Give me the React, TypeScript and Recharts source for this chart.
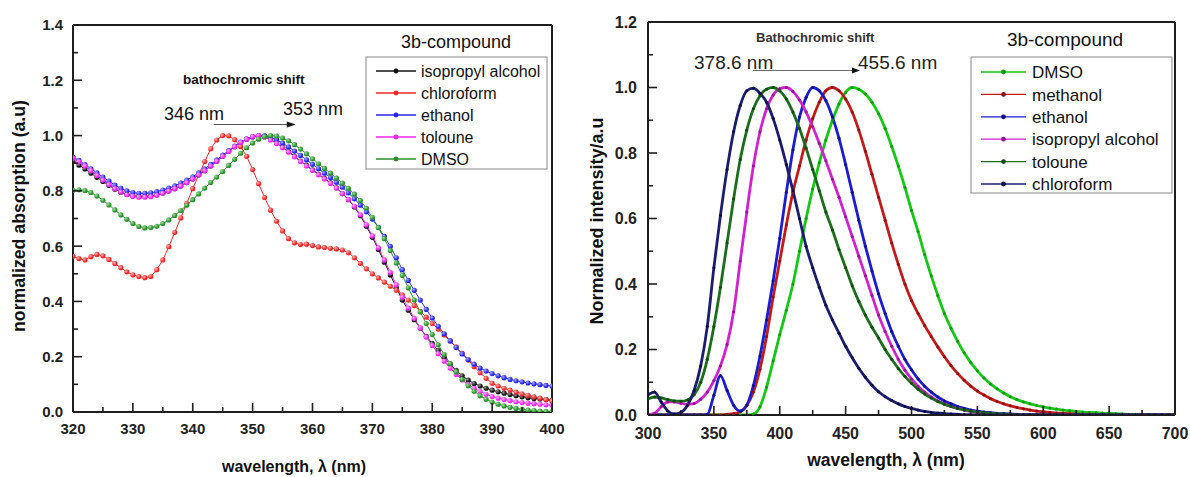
import React from 'react';
import { LineChart, Line, XAxis, YAxis, ReferenceLine } from 'recharts';

const FONT = "'Liberation Sans', Arial, Helvetica, sans-serif";
const AXIS = '#1e1e1e';

// ---------- absorption spectra (left panel), 1 nm steps ----------
const absWavelength = [
  320, 321, 322, 323, 324, 325, 326, 327, 328, 329,
  330, 331, 332, 333, 334, 335, 336, 337, 338, 339,
  340, 341, 342, 343, 344, 345, 346, 347, 348, 349,
  350, 351, 352, 353, 354, 355, 356, 357, 358, 359,
  360, 361, 362, 363, 364, 365, 366, 367, 368, 369,
  370, 371, 372, 373, 374, 375, 376, 377, 378, 379,
  380, 381, 382, 383, 384, 385, 386, 387, 388, 389,
  390, 391, 392, 393, 394, 395, 396, 397, 398, 399,
  400,
];
const absIsopropyl = [
  0.905, 0.893, 0.879, 0.864, 0.849, 0.834, 0.82, 0.806, 0.795, 0.787,
  0.782, 0.78, 0.78, 0.782, 0.786, 0.792, 0.8, 0.808, 0.818, 0.83,
  0.843, 0.858, 0.873, 0.89, 0.907, 0.925, 0.943, 0.96, 0.975, 0.987,
  0.996, 1.0, 0.996, 0.986, 0.973, 0.958, 0.942, 0.925, 0.908, 0.892,
  0.876, 0.86, 0.845, 0.829, 0.811, 0.79, 0.768, 0.742, 0.71, 0.672,
  0.632, 0.588, 0.542, 0.496, 0.45, 0.405, 0.368, 0.334, 0.303, 0.274,
  0.248, 0.222, 0.197, 0.173, 0.151, 0.131, 0.115, 0.103, 0.094, 0.086,
  0.079, 0.073, 0.068, 0.063, 0.059, 0.055, 0.052, 0.049, 0.047, 0.045,
  0.043,
];
const absChloroform = [
  0.563, 0.555, 0.55, 0.562, 0.57, 0.565, 0.552, 0.537, 0.522, 0.507,
  0.496, 0.49, 0.486, 0.49, 0.515, 0.55, 0.598, 0.65, 0.702, 0.755,
  0.808, 0.858, 0.906, 0.952, 0.984, 1.0, 0.999, 0.985, 0.96, 0.925,
  0.877, 0.826, 0.776, 0.73, 0.69, 0.655, 0.627, 0.612, 0.606, 0.607,
  0.602, 0.597, 0.595, 0.592, 0.59, 0.586, 0.576, 0.558, 0.538, 0.518,
  0.5, 0.485, 0.47, 0.455, 0.44, 0.424, 0.405, 0.385, 0.364, 0.343,
  0.32, 0.3, 0.279, 0.257, 0.236, 0.212, 0.188, 0.164, 0.142, 0.122,
  0.104, 0.094, 0.086, 0.079, 0.072, 0.066, 0.06, 0.055, 0.05, 0.045,
  0.04,
];
const absEthanol = [
  0.922, 0.91, 0.895, 0.88, 0.865, 0.85, 0.835, 0.821, 0.809, 0.8,
  0.794, 0.791, 0.791, 0.793, 0.797, 0.803, 0.81, 0.818, 0.828, 0.839,
  0.851, 0.865, 0.88, 0.896, 0.912, 0.929, 0.946, 0.962, 0.976, 0.987,
  0.995, 1.0, 1.0, 0.995, 0.985, 0.973, 0.959, 0.944, 0.928, 0.912,
  0.896, 0.88, 0.864, 0.848, 0.831, 0.813, 0.793, 0.771, 0.748, 0.724,
  0.698, 0.668, 0.635, 0.599, 0.558, 0.515, 0.476, 0.44, 0.405, 0.371,
  0.34, 0.31, 0.283, 0.257, 0.233, 0.21, 0.19, 0.173, 0.159, 0.148,
  0.139, 0.131, 0.124, 0.118, 0.113, 0.109, 0.105, 0.102, 0.099, 0.096,
  0.094,
];
const absToloune = [
  0.918, 0.905, 0.89, 0.873, 0.856, 0.839, 0.823, 0.808, 0.796, 0.786,
  0.78, 0.777, 0.777, 0.779, 0.784, 0.791, 0.799, 0.808, 0.818, 0.83,
  0.843, 0.858, 0.873, 0.89, 0.907, 0.925, 0.943, 0.96, 0.975, 0.987,
  0.996, 1.0, 0.995, 0.984, 0.971, 0.956, 0.94, 0.923, 0.906, 0.89,
  0.874, 0.858, 0.843, 0.827, 0.81, 0.79, 0.769, 0.744, 0.713, 0.677,
  0.637, 0.594, 0.55, 0.505, 0.46, 0.415, 0.376, 0.339, 0.304, 0.271,
  0.241, 0.211, 0.184, 0.159, 0.136, 0.116, 0.099, 0.086, 0.074, 0.064,
  0.056, 0.05, 0.045, 0.041, 0.037, 0.034, 0.032, 0.03, 0.028, 0.026,
  0.025,
];
const absDmso = [
  0.802, 0.804, 0.801, 0.794, 0.781, 0.766, 0.749, 0.731, 0.713, 0.697,
  0.682, 0.671, 0.666, 0.667, 0.672, 0.682, 0.695, 0.711, 0.729, 0.748,
  0.768, 0.789, 0.81, 0.83, 0.85, 0.87, 0.892, 0.914, 0.936, 0.956,
  0.973, 0.987, 0.996, 1.0, 0.998, 0.991, 0.981, 0.967, 0.951, 0.934,
  0.916, 0.898, 0.881, 0.864, 0.846, 0.828, 0.809, 0.788, 0.765, 0.737,
  0.704, 0.667, 0.627, 0.584, 0.539, 0.494, 0.449, 0.405, 0.362, 0.32,
  0.28, 0.243, 0.208, 0.175, 0.145, 0.118, 0.095, 0.075, 0.059, 0.046,
  0.036, 0.028, 0.022, 0.017, 0.013, 0.01, 0.007, 0.005, 0.003, 0.002,
  0.001,
];
const absXTicks = [320, 325, 330, 335, 340, 345, 350, 355, 360, 365, 370, 375, 380, 385, 390, 395, 400];
const absYTicks = [0, 0.1, 0.2, 0.3, 0.4, 0.5, 0.6, 0.7, 0.8, 0.9, 1.0, 1.1, 1.2, 1.3, 1.4];
const absShift = [{ x: 343.5, y: 1.04 }, { x: 357.2, y: 1.04 }];

// ---------- emission spectra (right panel), 5 nm steps ----------
const emWavelength = [
  300, 305, 310, 315, 320, 325, 330, 335, 340, 345,
  350, 355, 360, 365, 370, 375, 380, 385, 390, 395,
  400, 405, 410, 415, 420, 425, 430, 435, 440, 445,
  450, 455, 460, 465, 470, 475, 480, 485, 490, 495,
  500, 505, 510, 515, 520, 525, 530, 535, 540, 545,
  550, 555, 560, 565, 570, 575, 580, 585, 590, 595,
  600, 605, 610, 615, 620, 625, 630, 635, 640, 645,
  650, 655, 660, 665, 670, 675, 680, 685, 690, 695,
  700,
];
const emDmso = [
  0, 0, 0, 0, 0, 0, 0, 0, 0, 0,
  0, 0, 0, 0, 0, 0, 0.003, 0.025, 0.085, 0.165,
  0.245, 0.32, 0.4, 0.5, 0.6, 0.69, 0.77, 0.84, 0.9, 0.95,
  0.985, 1.0, 0.995, 0.98, 0.955, 0.92, 0.875, 0.82, 0.76, 0.695,
  0.625, 0.56, 0.49, 0.425, 0.365, 0.31, 0.265, 0.225, 0.19, 0.16,
  0.135, 0.113, 0.095, 0.08, 0.067, 0.056, 0.047, 0.04, 0.034, 0.029,
  0.025, 0.021, 0.018, 0.015, 0.013, 0.011, 0.009, 0.008, 0.007, 0.006,
  0.005, 0.004, 0.003, 0.002, 0.002, 0.001, 0.001, 0.001, 0, 0,
  0,
];
const emMethanol = [
  0, 0, 0, 0, 0, 0, 0, 0, 0, 0,
  0, 0, 0.002, 0.004, 0.01, 0.03, 0.07, 0.14, 0.24, 0.36,
  0.47, 0.58, 0.68, 0.76, 0.84, 0.905, 0.955, 0.99, 1.0, 0.99,
  0.965, 0.925, 0.87, 0.805, 0.735, 0.665, 0.595, 0.525, 0.46, 0.4,
  0.35, 0.31, 0.273, 0.24, 0.208, 0.178, 0.151, 0.127, 0.106, 0.088,
  0.073, 0.061, 0.05, 0.041, 0.034, 0.028, 0.023, 0.019, 0.015, 0.012,
  0.01, 0.008, 0.006, 0.005, 0.004, 0.003, 0.002, 0.002, 0.001, 0.001,
  0, 0, 0, 0, 0, 0, 0, 0, 0, 0,
  0,
];
const emEthanol = [
  0, 0, 0, 0, 0, 0, 0, 0, 0, 0.002,
  0.06, 0.12, 0.075, 0.03, 0.012, 0.03, 0.09, 0.18, 0.29, 0.41,
  0.54, 0.68, 0.81, 0.91, 0.97, 1.0, 0.99, 0.96, 0.91, 0.845,
  0.765, 0.68, 0.595, 0.515, 0.44, 0.37, 0.31, 0.255, 0.21, 0.17,
  0.138, 0.11, 0.088, 0.07, 0.055, 0.043, 0.034, 0.026, 0.02, 0.015,
  0.012, 0.009, 0.007, 0.005, 0.004, 0.003, 0.002, 0.001, 0.001, 0,
  0, 0, 0, 0, 0, 0, 0, 0, 0, 0,
  0, 0, 0, 0, 0, 0, 0, 0, 0, 0,
  0,
];
const emIsopropyl = [
  0, 0.005, 0.025, 0.04, 0.04, 0.036, 0.033, 0.035, 0.048, 0.07,
  0.105, 0.15, 0.215, 0.315, 0.47, 0.62, 0.76, 0.865, 0.935, 0.977,
  0.996, 1.0, 0.988, 0.962, 0.925, 0.88, 0.83, 0.776, 0.72, 0.665,
  0.605, 0.545, 0.485, 0.425, 0.365, 0.305, 0.255, 0.21, 0.17, 0.137,
  0.11, 0.088, 0.07, 0.055, 0.043, 0.034, 0.026, 0.02, 0.015, 0.011,
  0.008, 0.006, 0.004, 0.003, 0.002, 0.001, 0, 0, 0, 0,
  0, 0, 0, 0, 0, 0, 0, 0, 0, 0,
  0, 0, 0, 0, 0, 0, 0, 0, 0, 0,
  0,
];
const emToloune = [
  0.05, 0.055, 0.052, 0.047, 0.043, 0.042, 0.046, 0.062, 0.1, 0.17,
  0.27, 0.39, 0.525, 0.66, 0.78, 0.87, 0.935, 0.975, 0.995, 1.0,
  0.99, 0.965, 0.925, 0.875, 0.815, 0.75, 0.685, 0.62, 0.565, 0.505,
  0.45, 0.395, 0.347, 0.305, 0.268, 0.235, 0.2, 0.17, 0.142, 0.118,
  0.097, 0.079, 0.064, 0.052, 0.041, 0.033, 0.026, 0.02, 0.016, 0.012,
  0.009, 0.007, 0.005, 0.004, 0.003, 0.002, 0.001, 0, 0, 0,
  0, 0, 0, 0, 0, 0, 0, 0, 0, 0,
  0, 0, 0, 0, 0, 0, 0, 0, 0, 0,
  0,
];
const emChloroform = [
  0.062, 0.07, 0.04, 0.012, 0.003, 0.008, 0.03, 0.075, 0.15, 0.27,
  0.45, 0.61, 0.75, 0.865, 0.945, 0.99, 0.998, 0.982, 0.955, 0.905,
  0.84, 0.765, 0.685, 0.6, 0.515, 0.45, 0.39, 0.335, 0.29, 0.25,
  0.21, 0.175, 0.143, 0.115, 0.091, 0.071, 0.056, 0.044, 0.034, 0.026,
  0.02, 0.015, 0.011, 0.008, 0.006, 0.004, 0.003, 0.002, 0.001, 0.001,
  0, 0, 0, 0, 0, 0, 0, 0, 0, 0,
  0, 0, 0, 0, 0, 0, 0, 0, 0, 0,
  0, 0, 0, 0, 0, 0, 0, 0, 0, 0,
  0,
];
const emXTicks = [300, 325, 350, 375, 400, 425, 450, 475, 500, 525, 550, 575, 600, 625, 650, 675, 700];
const emYTicks = [0, 0.1, 0.2, 0.3, 0.4, 0.5, 0.6, 0.7, 0.8, 0.9, 1.0, 1.1, 1.2];
const emShift = [{ x: 379.7, y: 1.052 }, { x: 460.9, y: 1.052 }];

const absSeries = [
  { key: 'iso', name: 'isopropyl alcohol', color: '#111111', hi: '#9a9a9a', values: absIsopropyl },
  { key: 'chl', name: 'chloroform', color: '#f02626', hi: '#ffb0b0', values: absChloroform },
  { key: 'eth', name: 'ethanol', color: '#2424f0', hi: '#a8a8ff', values: absEthanol },
  { key: 'tol', name: 'toloune', color: '#f024f0', hi: '#ffb4ff', values: absToloune },
  { key: 'dmso', name: 'DMSO', color: '#2a8f2a', hi: '#9be09b', values: absDmso },
];

const emSeries = [
  { key: 'dmso', name: 'DMSO', color: '#14c814', dot: '#0f9a0f', values: emDmso },
  { key: 'met', name: 'methanol', color: '#c41a1a', dot: '#8f1010', values: emMethanol },
  { key: 'eth', name: 'ethanol', color: '#1c1cd0', dot: '#10108f', values: emEthanol },
  { key: 'iso', name: 'isopropyl alcohol', color: '#d022d0', dot: '#951595', values: emIsopropyl },
  { key: 'tol', name: 'toloune', color: '#1b6e1b', dot: '#0f4a0f', values: emToloune },
  { key: 'chl', name: 'chloroform', color: '#1c1c70', dot: '#0c0c45', values: emChloroform },
];

const buildRows = (xs: number[], series: { key: string; values: number[] }[]) =>
  xs.map((w, i) => {
    const row: Record<string, number> = { w };
    series.forEach((s) => {
      row[s.key] = s.values[i];
    });
    return row;
  });

const absRows = buildRows(absWavelength, absSeries);
const emRows = buildRows(emWavelength, emSeries);

// inward-pointing ticks, labels only on the major ones
const makeYTick = (margin: number, fontSize: number) => (props: any) => {
  const { x, y, payload } = props;
  const v = payload.value as number;
  const major = Math.round(v * 10) % 2 === 0;
  const ax = x + margin;
  return (
    <g>
      <line x1={ax} y1={y} x2={ax + (major ? 9 : 5)} y2={y} stroke={AXIS} strokeWidth={1.6} />
      {major && (
        <text x={x} y={y} dy="0.36em" textAnchor="end" fontFamily={FONT} fontWeight="bold" fontSize={fontSize} fill="#222">
          {v.toFixed(1)}
        </text>
      )}
    </g>
  );
};

const makeXTick = (margin: number, fontSize: number, step: number) => (props: any) => {
  const { x, y, payload } = props;
  const v = payload.value as number;
  const major = v % step === 0;
  const ay = y - margin;
  return (
    <g>
      <line x1={x} y1={ay} x2={x} y2={ay - (major ? 9 : 5)} stroke={AXIS} strokeWidth={1.6} />
      {major && (
        <text x={x} y={y} dy="0.71em" textAnchor="middle" fontFamily={FONT} fontWeight="bold" fontSize={fontSize} fill="#222">
          {v}
        </text>
      )}
    </g>
  );
};

const makeArrow = (color: string, width: number, head: number) => (props: any) => {
  const { x1, y1, x2, y2 } = props;
  return (
    <g>
      <line x1={x1} y1={y1} x2={x2 - head + 1} y2={y2} stroke={color} strokeWidth={width} />
      <polygon points={`${x2},${y2} ${x2 - head},${y2 - 3} ${x2 - head},${y2 + 3}`} fill="#111" />
    </g>
  );
};

const AbsorptionChart = () => (
  <LineChart width={570} height={477} data={absRows} margin={{ top: 25, right: 18, bottom: 35, left: 33 }}>
    <defs>
      {absSeries.map((s) => (
        <radialGradient key={s.key} id={`ball-${s.key}`} cx="35%" cy="35%" r="70%">
          <stop offset="0%" stopColor={s.hi} />
          <stop offset="70%" stopColor={s.color} />
        </radialGradient>
      ))}
    </defs>
    <XAxis
      dataKey="w"
      type="number"
      domain={[320, 400]}
      ticks={absXTicks}
      interval={0}
      height={30}
      tickSize={0}
      tickMargin={11}
      tickLine={false}
      tick={makeXTick(11, 15, 10)}
      axisLine={{ stroke: AXIS, strokeWidth: 2 }}
      allowDataOverflow
    />
    <YAxis
      type="number"
      domain={[0, 1.4]}
      ticks={absYTicks}
      interval={0}
      width={40}
      tickSize={0}
      tickMargin={10}
      tickLine={false}
      tick={makeYTick(10, 15)}
      axisLine={{ stroke: AXIS, strokeWidth: 2 }}
      allowDataOverflow
    />
    <ReferenceLine y={1.4} stroke={AXIS} strokeWidth={2} />
    <ReferenceLine x={400} stroke={AXIS} strokeWidth={2} />
    <ReferenceLine segment={absShift} shape={makeArrow('#555', 1.2, 9)} />
    {absSeries.map((s) => (
      <Line
        key={s.key}
        dataKey={s.key}
        name={s.name}
        type="linear"
        stroke={s.color}
        strokeWidth={1}
        dot={(p: any) => <circle key={`${s.key}-${p.index}`} cx={p.cx} cy={p.cy} r={2.6} fill={`url(#ball-${s.key})`} />}
        isAnimationActive={false}
      />
    ))}
  </LineChart>
);

const EmissionChart = () => (
  <LineChart width={600} height={477} data={emRows} margin={{ top: 22, right: 15, bottom: 32, left: 18 }}>
    <XAxis
      dataKey="w"
      type="number"
      domain={[300, 700]}
      ticks={emXTicks}
      interval={0}
      height={30}
      tickSize={0}
      tickMargin={13}
      tickLine={false}
      tick={makeXTick(13, 16, 50)}
      axisLine={{ stroke: AXIS, strokeWidth: 2 }}
      allowDataOverflow
    />
    <YAxis
      type="number"
      domain={[0, 1.2]}
      ticks={emYTicks}
      interval={0}
      width={40}
      tickSize={0}
      tickMargin={11}
      tickLine={false}
      tick={makeYTick(11, 16)}
      axisLine={{ stroke: AXIS, strokeWidth: 2 }}
      allowDataOverflow
    />
    <ReferenceLine y={1.2} stroke={AXIS} strokeWidth={2} />
    <ReferenceLine x={700} stroke={AXIS} strokeWidth={2} />
    <ReferenceLine segment={emShift} shape={makeArrow('#666', 1, 8)} />
    {emSeries.map((s) => (
      <Line
        key={s.key}
        dataKey={s.key}
        name={s.name}
        type="monotone"
        stroke={s.color}
        strokeWidth={2.8}
        dot={{ r: 1.5, fill: s.dot, stroke: 'none' }}
        isAnimationActive={false}
      />
    ))}
  </LineChart>
);

// legend box with a short line + dot per solvent
const LegendBox = ({ series, x, y, w, h, rowTop, rowGap, lineLen, textX, fontSize }: any) => (
  <g>
    <rect x={x} y={y} width={w} height={h} fill="#fff" stroke="#9a9a9a" strokeWidth={1.2} />
    {series.map((s: any, i: number) => {
      const cy = rowTop + i * rowGap;
      const lx = x + 10;
      return (
        <g key={s.key}>
          <line x1={lx} y1={cy} x2={lx + lineLen} y2={cy} stroke={s.color} strokeWidth={1.3} />
          <circle cx={lx + lineLen / 2} cy={cy} r={2.4} fill={s.dot || s.color} />
          <text x={textX} y={cy} dy="0.36em" fontFamily={FONT} fontSize={fontSize} fill="#111">
            {s.name}
          </text>
        </g>
      );
    })}
  </g>
);

export default function App() {
  return (
    <div style={{ position: 'absolute', left: 0, top: 0, width: 1190, height: 477, background: '#fff', overflow: 'hidden' }}>
      <div style={{ position: 'absolute', left: 0, top: 0 }}>
        <AbsorptionChart />
      </div>
      <div style={{ position: 'absolute', left: 590, top: 0 }}>
        <EmissionChart />
      </div>
      <svg width={1190} height={477} style={{ position: 'absolute', left: 0, top: 0, pointerEvents: 'none' }}>
        {/* left panel texts */}
        <text x={456} y={48} textAnchor="middle" fontFamily={FONT} fontSize={18} fill="#111">3b-compound</text>
        <LegendBox series={absSeries} x={366} y={57} w={181} h={112} rowTop={71} rowGap={22} lineLen={40} textX={421} fontSize={16} />
        <text x={183} y={84} fontFamily={FONT} fontWeight="bold" fontSize={13.5} fill="#111">bathochromic shift</text>
        <text x={164} y={120} fontFamily={FONT} fontSize={18} fill="#111">346 nm</text>
        <text x={283} y={115} fontFamily={FONT} fontSize={18} fill="#111">353 nm</text>
        <text
          x={19}
          y={216}
          transform="rotate(-90 19 216)"
          textAnchor="middle"
          dominantBaseline="central"
          fontFamily={FONT}
          fontWeight="bold"
          fontSize={17.7}
          fill="#111"
        >
          normalized absorption (a.u)
        </text>
        <text x={294} y={472} textAnchor="middle" fontFamily={FONT} fontWeight="bold" fontSize={16} fill="#111">
          wavelength, λ (nm)
        </text>

        {/* right panel texts */}
        <text x={1065} y={46} textAnchor="middle" fontFamily={FONT} fontSize={19} fill="#111">3b-compound</text>
        <LegendBox series={emSeries} x={971} y={57} w={201} h={136} rowTop={72} rowGap={22.4} lineLen={45} textX={1032} fontSize={17} />
        <text x={756} y={42} fontFamily={FONT} fontWeight="bold" fontSize={13} fill="#333">Bathochromic shift</text>
        <text x={694} y={69} fontFamily={FONT} fontSize={19} fill="#222">378.6 nm</text>
        <text x={858} y={69} fontFamily={FONT} fontSize={19} fill="#222">455.6 nm</text>
        <text
          x={597}
          y={221}
          transform="rotate(-90 597 221)"
          textAnchor="middle"
          dominantBaseline="central"
          fontFamily={FONT}
          fontWeight="bold"
          fontSize={18}
          fill="#111"
        >
          Normalized intensity/a.u
        </text>
        <text x={886} y={466} textAnchor="middle" fontFamily={FONT} fontWeight="bold" fontSize={17.5} fill="#111">
          wavelength, λ (nm)
        </text>
      </svg>
    </div>
  );
}
